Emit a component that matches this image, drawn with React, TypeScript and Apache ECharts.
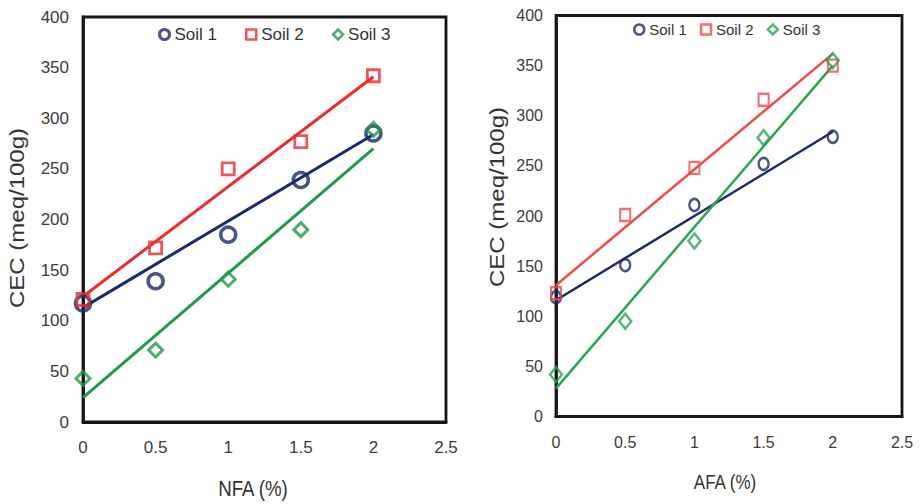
import React, { useEffect, useRef } from "react";
import * as echarts from "echarts";

// ---- data ----
const X_LEVELS = [0, 0.5, 1, 1.5, 2];
const SERIES_NAMES = ["Soil 1", "Soil 2", "Soil 3"];

// Left panel: NFA (%)
const NFA_SOIL1 = [117, 139, 185, 239, 285];
const NFA_SOIL2 = [121, 172, 250, 277, 342];
const NFA_SOIL3 = [43, 71, 141, 190, 289];
// Right panel: AFA (%)
const AFA_SOIL1 = [119, 151, 211, 252, 279];
const AFA_SOIL2 = [123, 201, 248, 316, 350];
const AFA_SOIL3 = [42, 95, 175, 278, 355];

// Linear trend lines (end points)
const FIT_X = [0, 2];
const NFA_FIT1 = [113, 284];
const NFA_FIT2 = [124, 341];
const NFA_FIT3 = [24, 270];
const AFA_FIT1 = [116, 284];
const AFA_FIT2 = [131, 362];
const AFA_FIT3 = [28, 350];

const X_TICKS = { min: 0, max: 2.5, interval: 0.5 };
const Y_TICKS = { min: 0, max: 400, interval: 50 };

// ---- styles ----
const NAVY = "#1c2a6c";
const RED_L = "#ec2c2c";
const GREEN_L = "#1f9a4a";
const RED_R = "#f04a4a";
const GREEN_R = "#2aa552";
const FRAME = "#161616";
const REGULAR = "'Liberation Sans', Arial, sans-serif";

const pairs = (xs: number[], ys: number[]) => xs.map((x, i) => [x, ys[i]]);

export default function App() {
  const ref = useRef<HTMLDivElement>(null);

  useEffect(() => {
    document.body.style.margin = "0";
    if (!ref.current) return;
    const chart = echarts.init(ref.current, undefined, { renderer: "svg" });

    const axisBase = (gridIndex: number, ticks: any, fs: number, margin: number) => ({
      type: "value",
      gridIndex,
      ...ticks,
      axisLine: { show: true, onZero: false, lineStyle: { color: FRAME, width: 2.8 } },
      axisTick: { show: false },
      splitLine: { show: false },
      axisLabel: { fontFamily: REGULAR, fontSize: fs, color: "#3c3c3c", margin },
    });

    const scatter = (
      name: string,
      idx: number,
      ys: number[],
      symbol: string,
      size: number | number[],
      color: string,
      bw: number
    ) => ({
      type: "scatter",
      name,
      xAxisIndex: idx,
      yAxisIndex: idx,
      data: pairs(X_LEVELS, ys),
      symbol,
      symbolSize: size,
      itemStyle: { color: "rgba(0,0,0,0)", borderColor: color, borderWidth: bw },
      z: 3,
    });
    const fit = (name: string, idx: number, ys: number[], color: string, w: number) => ({
      type: "line",
      name,
      xAxisIndex: idx,
      yAxisIndex: idx,
      data: pairs(FIT_X, ys),
      showSymbol: false,
      symbol: "none",
      lineStyle: { color, width: w },
      z: 2,
    });

    const legendItem = (name: string, icon: string, color: string, bw: number) => ({
      name,
      icon,
      itemStyle: { color: "#ffffff", borderColor: color, borderWidth: bw },
    });

    const label = (text: string, x: number, y: number, fs: number, rotated: boolean) => ({
      type: "text",
      x,
      y,
      rotation: rotated ? Math.PI / 2 : 0,
      scaleX: rotated ? 1 : 0.85,
      scaleY: rotated ? 0.85 : 1,
      style: { text, fontFamily: REGULAR, fontSize: fs, fill: "#333", align: "center", verticalAlign: "middle" },
    });

    chart.setOption({
      animation: false,
      grid: [
        { left: 83, top: 17, width: 363, height: 405, show: true, borderColor: FRAME, borderWidth: 2.8, backgroundColor: "transparent" },
        { left: 556, top: 15.5, width: 346, height: 401, show: true, borderColor: FRAME, borderWidth: 2.8, backgroundColor: "transparent" },
      ],
      xAxis: [axisBase(0, X_TICKS, 17, 17), axisBase(1, X_TICKS, 16, 18)],
      yAxis: [axisBase(0, Y_TICKS, 17, 14), axisBase(1, Y_TICKS, 16, 13)],
      legend: [
        {
          left: 158,
          top: 26,
          padding: 0,
          itemWidth: 10,
          itemHeight: 10,
          itemGap: 28,
          selectedMode: false,
          textStyle: { fontFamily: REGULAR, fontSize: 17, color: "#333" },
          data: [
            legendItem(SERIES_NAMES[0], "circle", NAVY, 3),
            legendItem(SERIES_NAMES[1], "rect", RED_L, 2.5),
            legendItem(SERIES_NAMES[2], "diamond", GREEN_L, 2.5),
          ],
        },
        {
          left: 633,
          top: 22,
          padding: 0,
          itemWidth: 10,
          itemHeight: 10,
          itemGap: 13,
          selectedMode: false,
          textStyle: { fontFamily: REGULAR, fontSize: 15, color: "#333" },
          data: [
            legendItem(SERIES_NAMES[0], "circle", NAVY, 2.5),
            legendItem(SERIES_NAMES[1], "rect", RED_R, 2.5),
            legendItem(SERIES_NAMES[2], "diamond", GREEN_R, 2.5),
          ],
        },
      ],
      graphic: [
        label("NFA (%)", 253, 488, 22, false),
        label("AFA (%)", 725, 482, 20, false),
        label("CEC (meq/100g)", 17, 218, 24, true),
        label("CEC (meq/100g)", 497, 197, 24, true),
      ],
      series: [
        fit("Soil 1 trend", 0, NFA_FIT1, NAVY, 3),
        fit("Soil 2 trend", 0, NFA_FIT2, RED_L, 3),
        fit("Soil 3 trend", 0, NFA_FIT3, GREEN_L, 3),
        scatter(SERIES_NAMES[0], 0, NFA_SOIL1, "circle", 15, NAVY, 3.5),
        scatter(SERIES_NAMES[1], 0, NFA_SOIL2, "rect", 12, RED_L, 2.8),
        scatter(SERIES_NAMES[2], 0, NFA_SOIL3, "diamond", 14, GREEN_L, 3),
        fit("Soil 1 trend", 1, AFA_FIT1, NAVY, 2.5),
        fit("Soil 2 trend", 1, AFA_FIT2, RED_R, 2.5),
        fit("Soil 3 trend", 1, AFA_FIT3, GREEN_R, 2.5),
        scatter(SERIES_NAMES[0], 1, AFA_SOIL1, "circle", [10, 12], NAVY, 2.5),
        scatter(SERIES_NAMES[1], 1, AFA_SOIL2, "rect", [10, 12], RED_R, 2.2),
        scatter(SERIES_NAMES[2], 1, AFA_SOIL3, "diamond", [12, 15], GREEN_R, 2.5),
      ],
    });

    return () => chart.dispose();
  }, []);

  return <div ref={ref} style={{ width: 919, height: 504 }} />;
}
